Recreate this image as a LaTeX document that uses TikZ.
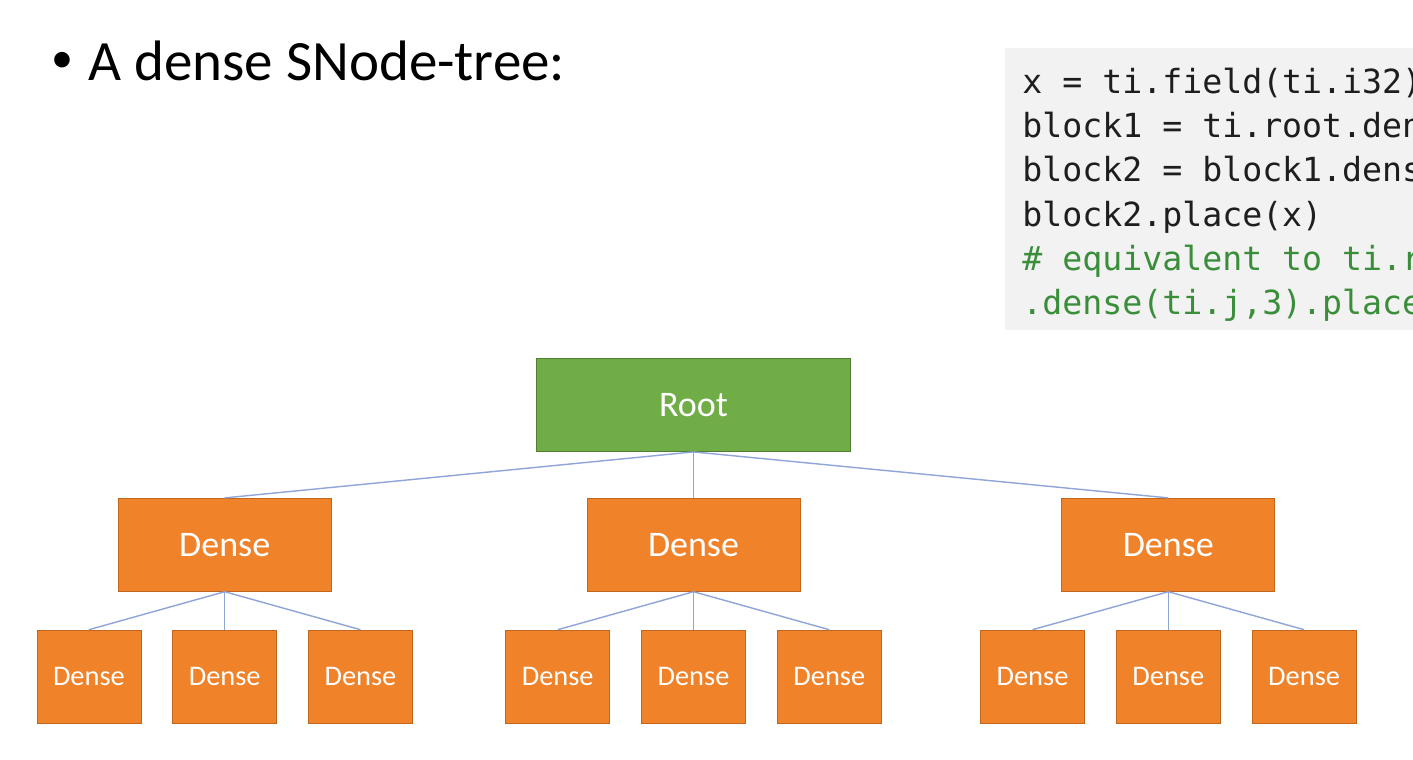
\documentclass[tikz,border=0pt]{standalone}
\usepackage{fontspec}
\setmainfont{Carlito}
\newfontfamily\codefont{DejaVu Sans Mono}
\usetikzlibrary{positioning}
\definecolor{rootgreen}{HTML}{70AD47}
\definecolor{rootedge}{HTML}{507E32}
\definecolor{denseorange}{HTML}{F0822A}
\definecolor{denseedge}{HTML}{C0661F}
\definecolor{linkblue}{HTML}{8FA4D8}
\definecolor{codebg}{HTML}{F2F2F2}
\definecolor{codegreen}{HTML}{3A8E3A}
\definecolor{codeink}{HTML}{1E1E1E}
\tikzset{
  rootbox/.style={draw=rootedge,fill=rootgreen,text=white,minimum width=157pt,minimum height=46.5pt,inner sep=0pt,font=\fontsize{18}{20}\selectfont},
  densebox/.style={draw=denseedge,fill=denseorange,text=white,minimum width=106.5pt,minimum height=46.5pt,inner sep=0pt,font=\fontsize{18}{20}\selectfont},
  leafbox/.style={densebox,minimum width=52pt,font=\fontsize{14.2}{16}\selectfont},
  link/.style={draw=linkblue,line width=0.7pt},
  codeline/.style={anchor=base west,inner sep=0pt,text=codeink,font=\codefont\fontsize{16.6}{20}\selectfont},
}
\begin{document}
\begin{tikzpicture}[x=0.5pt,y=-0.5pt]
  \useasboundingbox[fill=white] (0,0) rectangle (1413,760);
  % heading
  \node[inner sep=0pt,font=\fontsize{22}{24}\selectfont] (bullet) at (62,62) {\textbullet};
  \node[anchor=base west,inner sep=0pt,font=\fontsize{28.5}{30}\selectfont] (title) at (88,80) {A dense SNode-tree:};
  % code snippet, cut by the page edge
  \begin{scope}
    \clip (1005,48) rectangle (1413,330);
    \fill[codebg] (1005,48) rectangle (1413,330);
    \node[codeline] (c1) at (1022,93) {x = ti.field(ti.i32)};
    \node[codeline] (c2) at (1022,137) {block1 = ti.root.dense(ti.i,3)};
    \node[codeline] (c3) at (1022,181) {block2 = block1.dense(ti.j,3)};
    \node[codeline] (c4) at (1022,226) {block2.place(x)};
    \node[codeline,text=codegreen] (c5) at (1022,270) {\# equivalent to ti.root.dense(ti.i,3)};
    \node[codeline,text=codegreen] (c6) at (1022,314) {.dense(ti.j,3).place(x)};
  \end{scope}
  % tree
  \node[rootbox] (root) at (693.5,405) {Root};
  \node[densebox,below=23pt of root] (d2) {Dense};
  \node[densebox,left=127.5pt of d2] (d1) {Dense};
  \node[densebox,right=130.5pt of d2] (d3) {Dense};
  \node[leafbox,below=19pt of d1] (d1b) {Dense};
  \node[leafbox,left=15.5pt of d1b] (d1a) {Dense};
  \node[leafbox,right=15.5pt of d1b] (d1c) {Dense};
  \node[leafbox,below=19pt of d2] (d2b) {Dense};
  \node[leafbox,left=15.5pt of d2b] (d2a) {Dense};
  \node[leafbox,right=15.5pt of d2b] (d2c) {Dense};
  \node[leafbox,below=19pt of d3] (d3b) {Dense};
  \node[leafbox,left=15.5pt of d3b] (d3a) {Dense};
  \node[leafbox,right=15.5pt of d3b] (d3c) {Dense};
  \draw[link] (root.south)--(d1.north);
  \draw[link] (root.south)--(d2.north);
  \draw[link] (root.south)--(d3.north);
  \draw[link] (d1.south)--(d1a.north);
  \draw[link] (d1.south)--(d1b.north);
  \draw[link] (d1.south)--(d1c.north);
  \draw[link] (d2.south)--(d2a.north);
  \draw[link] (d2.south)--(d2b.north);
  \draw[link] (d2.south)--(d2c.north);
  \draw[link] (d3.south)--(d3a.north);
  \draw[link] (d3.south)--(d3b.north);
  \draw[link] (d3.south)--(d3c.north);
\end{tikzpicture}
\end{document}
